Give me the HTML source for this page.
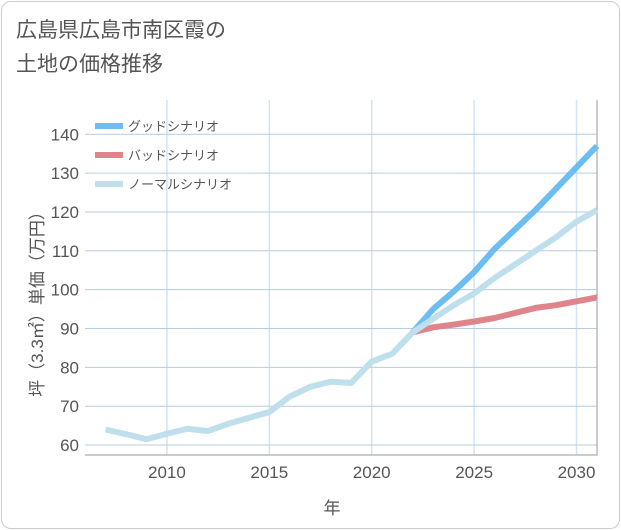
<!DOCTYPE html>
<html><head><meta charset="utf-8"><style>
body{margin:0;background:#fff;font-family:"Liberation Sans","Noto Sans CJK JP",sans-serif;}
#frame{position:absolute;left:1px;top:1px;width:617px;height:526px;border:1px solid #ccc;border-radius:10px;background:#fff;}
#title{position:absolute;left:16px;top:14px;font-size:21px;line-height:34px;color:#555;}
svg{position:absolute;left:0;top:0;}
</style></head><body>
<div id="frame"></div>
<div id="title">広島県広島市南区霞の<br>土地の価格推移</div>
<svg id="c" width="621" height="530"></svg>
<script>
const histYears=[2007,2008,2009,2010,2011,2012,2013,2014,2015,2016,2017,2018,2019,2020,2021,2022];
const histVals=[64,62.8,61.5,62.9,64.2,63.6,65.5,67,68.5,72.5,75,76.3,76,81.5,83.5,89];
const futYears=[2022,2023,2024,2025,2026,2027,2028,2029,2030,2031];
const goodVals=[89,95,99.5,104.5,110.5,115.5,120.5,126,131.5,137];
const badVals=[89,90.3,91,91.8,92.7,94,95.3,96,97,98];
const normVals=[89,92.5,96,99,103,106.5,110,113.5,117.5,120.5];
const yTicks=[60,70,80,90,100,110,120,130,140];
const xTicks=[2010,2015,2020,2025,2030];
const L=85,R=597,T=100,B=455;
const x=v=>L+(v-2006)/(2031-2006)*(R-L);
const y=v=>328.5-(v-90)*3.885;
const s=document.getElementById('c'),NS='http://www.w3.org/2000/svg';
function el(t,a,p){const e=document.createElementNS(NS,t);for(const k in a)e.setAttribute(k,a[k]);(p||s).appendChild(e);return e;}
const bg=el('rect',{x:L,y:T,width:R-L,height:B-T,fill:'#fff'});


xTicks.forEach(yr=>{const g=el('line',{x1:x(yr),x2:x(yr),y1:T,y2:B,stroke:'#d2e4f2','stroke-width':1.5});

});
yTicks.forEach(v=>{const g=el('line',{x1:L,x2:R,y1:y(v),y2:y(v),stroke:'#b6cce0','stroke-width':1});


const t=el('text',{x:L-6,y:y(v)+6,'text-anchor':'end','font-size':17,fill:'#555'});t.textContent=v;

});
xTicks.forEach(v=>{const t=el('text',{x:x(v),y:478,'text-anchor':'middle','font-size':17,fill:'#555'});t.textContent=v;

});
const ax=el('path',{d:`M${L} ${B}H${R}V${T}`,fill:'none',stroke:'#999','stroke-width':1});


function line(xs,vs,c,n){const p=el('polyline',{points:xs.map((a,i)=>x(a)+','+y(vs[i])).join(' '),fill:'none',stroke:c,'stroke-width':6,'stroke-linejoin':'round'});

}
line(futYears,badVals,'#e0848c','bad-scenario-line');
line(futYears,goodVals,'#6bbdf2','good-scenario-line');
line(futYears,normVals,'#bfdfec','normal-scenario-line');
line(histYears,histVals,'#bfdfec','historical-line');
const leg=[['グッドシナリオ','#6bbdf2'],['バッドシナリオ','#e0848c'],['ノーマルシナリオ','#bfdfec']];
leg.forEach((d,i)=>{const yy=126+i*29;
const l=el('line',{x1:95,x2:123,y1:yy,y2:yy,stroke:d[1],'stroke-width':6});


const t=el('text',{x:128,y:yy+5,'font-size':13,fill:'#555'});t.textContent=d[0];

});
const yt=el('text',{transform:'translate(43,300) rotate(-90)','text-anchor':'middle','font-size':17,fill:'#555'});yt.textContent='坪（3.3㎡）単価（万円）';


const xt=el('text',{x:332,y:514,'text-anchor':'middle','font-size':17,fill:'#555'});xt.textContent='年';


</script>
</body></html>
